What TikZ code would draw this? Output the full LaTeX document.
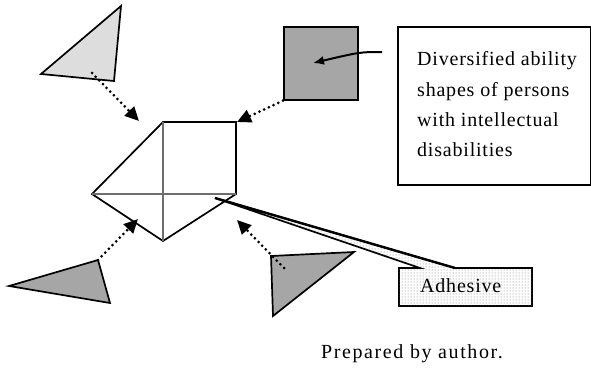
\documentclass[tikz,border=0pt]{standalone}
\usepackage{fontspec}
\setmainfont{Liberation Serif}
\newfontfamily\boxfont[LetterSpace=4]{Liberation Serif}
\newfontfamily\notefont[LetterSpace=8]{Liberation Serif}
\usetikzlibrary{arrows.meta,patterns}

\definecolor{lightshape}{HTML}{DDDDDD}
\definecolor{darkshape}{HTML}{A6A6A6}
\definecolor{seamgray}{HTML}{6E6E6E}

\tikzset{
  shapeline/.style={line width=1.7pt, line join=miter},
  seam/.style={line width=2.4pt, draw=seamgray},
  dotarrow/.style={line width=3pt, dash pattern=on 0pt off 5.2pt, line cap=round,
    -{Triangle[length=14pt,width=13pt]}},
  label/.style={inner sep=0pt, font=\boxfont\fontsize{20}{24}\selectfont},
}

\begin{document}
\begin{tikzpicture}[x=1pt,y=-1pt]
\useasboundingbox (0,0) rectangle (591,369);

% loose pieces
\coordinate (a1) at (121,6);
\coordinate (a2) at (41,74);
\coordinate (a3) at (114,81);
\draw[shapeline, fill=lightshape] (a1) -- (a2) -- (a3) -- cycle;

\coordinate (b1) at (9,286);
\coordinate (b2) at (98,260);
\coordinate (b3) at (110,303);
\draw[shapeline, fill=darkshape] (b1) -- (b2) -- (b3) -- cycle;

\coordinate (c1) at (271,256);
\coordinate (c2) at (354,252);
\coordinate (c3) at (273,316);
\draw[shapeline, fill=darkshape] (c1) -- (c2) -- (c3) -- cycle;

\node[shapeline, draw, fill=darkshape, anchor=north west, inner sep=0pt,
      minimum width=74pt, minimum height=73pt] (sq) at (283,26) {};

% assembled figure
\coordinate (pL)  at (92,194);
\coordinate (pT)  at (163,122);
\coordinate (pR)  at (236,122);
\coordinate (pRB) at (236,194);
\coordinate (pB)  at (163,241);
\draw[shapeline] (pL) -- (pT) -- (pR) -- (pRB) -- (pB) -- cycle;
\draw[seam] (pL) -- (pRB);
\draw[seam] (pT) -- (pB);

% movement of the pieces
\coordinate (a0) at (92,73);
\coordinate (aT) at (139,121);
\draw[dotarrow] (a0) -- (aT);
\coordinate (sT) at (237,122);
\draw[dotarrow] (sq.south west) -- (sT);
\coordinate (bT) at (138,219);
\draw[dotarrow] (b2) -- (bT);
\coordinate (c0) at (284,268);
\coordinate (cT) at (237,220);
\draw[dotarrow] (c0) -- (cT);

% description box
\node[shapeline, draw, anchor=north west, inner sep=0pt,
      minimum width=193pt, minimum height=158pt] (desc) at (397,26) {};
\node[label, anchor=base west] (d1) at (417,66)  {Diversified ability};
\node[label, anchor=base west] (d2) at (417,96)  {shapes of persons};
\node[label, anchor=base west] (d3) at (417,126) {with intellectual};
\node[label, anchor=base west] (d4) at (417,156) {disabilities};
\coordinate (dtail) at (382,52);
\coordinate (dtip) at (313,63);
\draw[line width=2pt, -{Latex[length=11pt,width=9pt]}]
  (dtail) .. controls (360,52) .. (dtip);

% adhesive callout
\coordinate (tip) at (215,198);
\draw[shapeline, fill=white] (tip) -- (455,268) -- (532,268) -- (532,306)
  -- (399,306) -- (399,268) -- (420,268) -- cycle;
\fill[pattern=dots, pattern color=black!55] (tip) -- (455,268) -- (532,268) -- (532,306)
  -- (399,306) -- (399,268) -- (420,268) -- cycle;
\draw[line width=2.4pt] (tip) -- (455,268);
\node[label, anchor=base west] (adh) at (420,292) {Adhesive};

\node[inner sep=0pt, anchor=base, font=\notefont\fontsize{20}{24}\selectfont]
  (note) at (412,358) {Prepared by author.};
\end{tikzpicture}
\end{document}
